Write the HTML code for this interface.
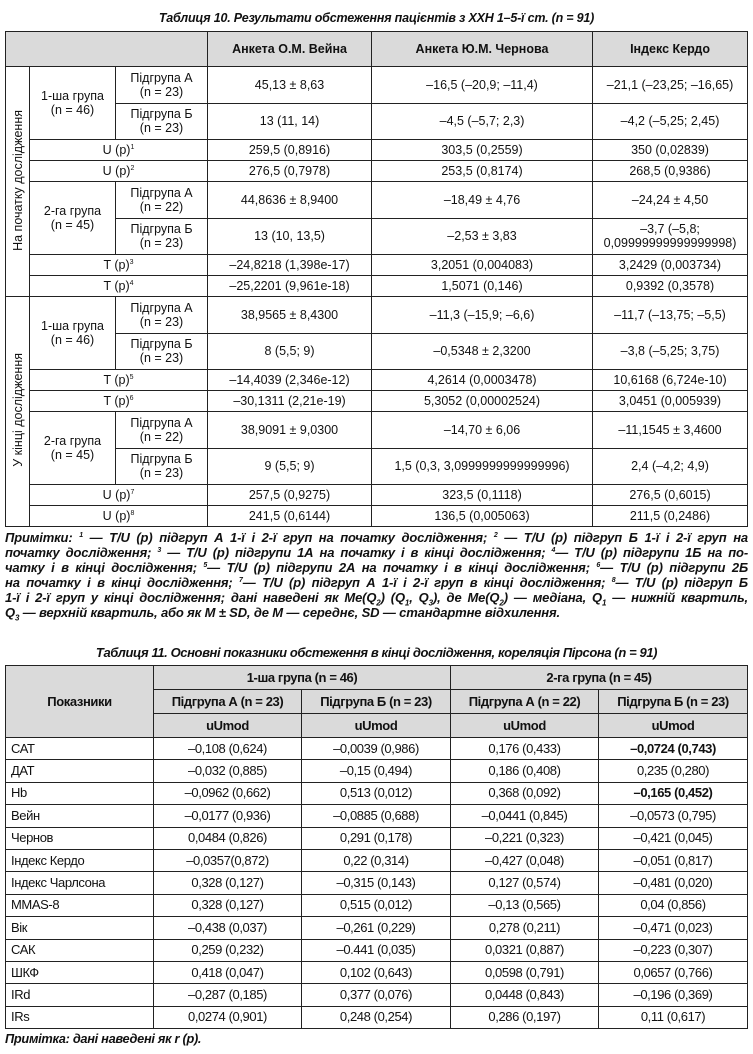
<!DOCTYPE html>
<html><head><meta charset="utf-8"><style>
body{margin:0;width:753px;height:1054px;background:#fff;font-family:"Liberation Sans",sans-serif;color:#111;position:relative;overflow:hidden}
.t{position:absolute;left:0;width:753px;text-align:center;font-weight:bold;font-style:italic;font-size:12.5px;letter-spacing:-0.2px}
table{position:absolute;left:5px;border-collapse:collapse;table-layout:fixed;width:742px}
td{border:1px solid #222;text-align:center;vertical-align:middle;padding:0;font-size:12.5px;line-height:14px;overflow:hidden;white-space:nowrap}
.g{background:#dadada}
.b{font-weight:bold}
.v{writing-mode:vertical-rl;transform:rotate(180deg);font-size:12.5px}
sup{font-size:7px;vertical-align:5px;line-height:0}
sub{font-size:8px;line-height:0}
#t11 td{letter-spacing:-0.4px;font-size:13px}
#t11 td.l{text-align:left;padding-left:5px}
.notes{position:absolute;left:5px;width:743px;top:530px;font-weight:bold;font-style:italic;font-size:13px;line-height:15px;letter-spacing:-0.15px}
.notes div{text-align:justify;text-align-last:justify;white-space:nowrap;height:15px}
.notes div.last{text-align-last:left}
</style></head><body>
<div class="t" style="top:11px">Таблиця 10. Результати обстеження пацієнтів з ХХН 1–5-ї ст. (n = 91)</div>
<table style="top:31px">
<colgroup><col style="width:24px"><col style="width:86px"><col style="width:92px"><col style="width:164px"><col style="width:221px"><col style="width:155px"></colgroup>
<tr style="height:35px"><td class="g" colspan="3"></td><td class="g b">Анкета О.М. Вейна</td><td class="g b">Анкета Ю.М. Чернова</td><td class="g b">Індекс Кердо</td></tr>
<tr style="height:36.5px"><td rowspan="8"><span class="v">На початку дослідження</span></td><td rowspan="2">1-ша група<br>(n = 46)</td><td>Підгрупа А<br>(n = 23)</td><td>45,13 ± 8,63</td><td>–16,5 (–20,9; –11,4)</td><td>–21,1 (–23,25; –16,65)</td></tr>
<tr style="height:36.5px"><td>Підгрупа Б<br>(n = 23)</td><td>13 (11, 14)</td><td>–4,5 (–5,7; 2,3)</td><td>–4,2 (–5,25; 2,45)</td></tr>
<tr style="height:21px"><td colspan="2">U (p)<sup>1</sup></td><td>259,5 (0,8916)</td><td>303,5 (0,2559)</td><td>350 (0,02839)</td></tr>
<tr style="height:21px"><td colspan="2">U (p)<sup>2</sup></td><td>276,5 (0,7978)</td><td>253,5 (0,8174)</td><td>268,5 (0,9386)</td></tr>
<tr style="height:36.5px"><td rowspan="2">2-га група<br>(n = 45)</td><td>Підгрупа А<br>(n = 22)</td><td>44,8636 ± 8,9400</td><td>–18,49 ± 4,76</td><td>–24,24 ± 4,50</td></tr>
<tr style="height:36.5px"><td>Підгрупа Б<br>(n = 23)</td><td>13 (10, 13,5)</td><td>–2,53 ± 3,83</td><td>–3,7 (–5,8;<br>0,09999999999999998)</td></tr>
<tr style="height:21px"><td colspan="2">T (p)<sup>3</sup></td><td>–24,8218 (1,398e-17)</td><td>3,2051 (0,004083)</td><td>3,2429 (0,003734)</td></tr>
<tr style="height:21px"><td colspan="2">T (p)<sup>4</sup></td><td>–25,2201 (9,961e-18)</td><td>1,5071 (0,146)</td><td>0,9392 (0,3578)</td></tr>
<tr style="height:36.5px"><td rowspan="8"><span class="v">У кінці дослідження</span></td><td rowspan="2">1-ша група<br>(n = 46)</td><td>Підгрупа А<br>(n = 23)</td><td>38,9565 ± 8,4300</td><td>–11,3 (–15,9; –6,6)</td><td>–11,7 (–13,75; –5,5)</td></tr>
<tr style="height:36.5px"><td>Підгрупа Б<br>(n = 23)</td><td>8 (5,5; 9)</td><td>–0,5348 ± 2,3200</td><td>–3,8 (–5,25; 3,75)</td></tr>
<tr style="height:21px"><td colspan="2">T (p)<sup>5</sup></td><td>–14,4039 (2,346e-12)</td><td>4,2614 (0,0003478)</td><td>10,6168 (6,724e-10)</td></tr>
<tr style="height:21px"><td colspan="2">T (p)<sup>6</sup></td><td>–30,1311 (2,21e-19)</td><td>5,3052 (0,00002524)</td><td>3,0451 (0,005939)</td></tr>
<tr style="height:36.5px"><td rowspan="2">2-га група<br>(n = 45)</td><td>Підгрупа А<br>(n = 22)</td><td>38,9091 ± 9,0300</td><td>–14,70 ± 6,06</td><td>–11,1545 ± 3,4600</td></tr>
<tr style="height:36.5px"><td>Підгрупа Б<br>(n = 23)</td><td>9 (5,5; 9)</td><td>1,5 (0,3, 3,0999999999999996)</td><td>2,4 (–4,2; 4,9)</td></tr>
<tr style="height:21px"><td colspan="2">U (p)<sup>7</sup></td><td>257,5 (0,9275)</td><td>323,5 (0,1118)</td><td>276,5 (0,6015)</td></tr>
<tr style="height:21px"><td colspan="2">U (p)<sup>8</sup></td><td>241,5 (0,6144)</td><td>136,5 (0,005063)</td><td>211,5 (0,2486)</td></tr>
</table>
<div class="notes">
<div>Примітки: <sup>1</sup> — T/U (p) підгруп А 1-ї і 2-ї груп на початку дослідження; <sup>2</sup> — T/U (p) підгруп Б 1-ї і 2-ї груп на</div>
<div>початку дослідження; <sup>3</sup> — T/U (p) підгрупи 1А на початку і в кінці дослідження; <sup>4</sup>— T/U (p) підгрупи 1Б на по-</div>
<div>чатку і в кінці дослідження; <sup>5</sup>— T/U (p) підгрупи 2А на початку і в кінці дослідження; <sup>6</sup>— T/U (p) підгрупи 2Б</div>
<div>на початку і в кінці дослідження; <sup>7</sup>— T/U (p) підгруп А 1-ї і 2-ї груп в кінці дослідження; <sup>8</sup>— T/U (p) підгруп Б</div>
<div>1-ї і 2-ї груп у кінці дослідження; дані наведені як Me(Q<sub>2</sub>) (Q<sub>1</sub>, Q<sub>3</sub>), де Me(Q<sub>2</sub>) — медіана, Q<sub>1</sub> — нижній квартиль,</div>
<div class="last">Q<sub>3</sub> — верхній квартиль, або як M ± SD, де M — середнє, SD — стандартне відхилення.</div>
</div>
<div class="t" style="top:645px;letter-spacing:-0.4px;font-size:13px">Таблиця 11. Основні показники обстеження в кінці дослідження, кореляція Пірсона (n = 91)</div>
<table id="t11" style="top:665px">
<colgroup><col style="width:148px"><col style="width:148px"><col style="width:149px"><col style="width:148px"><col style="width:149px"></colgroup>
<tr style="height:24px"><td class="g b" rowspan="3">Показники</td><td class="g b" colspan="2">1-ша група (n = 46)</td><td class="g b" colspan="2">2-га група (n = 45)</td></tr>
<tr style="height:24px"><td class="g b">Підгрупа А (n = 23)</td><td class="g b">Підгрупа Б (n = 23)</td><td class="g b">Підгрупа А (n = 22)</td><td class="g b">Підгрупа Б (n = 23)</td></tr>
<tr style="height:24px"><td class="g b">uUmod</td><td class="g b">uUmod</td><td class="g b">uUmod</td><td class="g b">uUmod</td></tr>
<tr style="height:22.4px"><td class="l">САТ</td><td>–0,108 (0,624)</td><td>–0,0039 (0,986)</td><td>0,176 (0,433)</td><td class="b">–0,0724 (0,743)</td></tr>
<tr style="height:22.4px"><td class="l">ДАТ</td><td>–0,032 (0,885)</td><td>–0,15 (0,494)</td><td>0,186 (0,408)</td><td>0,235 (0,280)</td></tr>
<tr style="height:22.4px"><td class="l">Hb</td><td>–0,0962 (0,662)</td><td>0,513 (0,012)</td><td>0,368 (0,092)</td><td class="b">–0,165 (0,452)</td></tr>
<tr style="height:22.4px"><td class="l">Вейн</td><td>–0,0177 (0,936)</td><td>–0,0885 (0,688)</td><td>–0,0441 (0,845)</td><td>–0,0573 (0,795)</td></tr>
<tr style="height:22.4px"><td class="l">Чернов</td><td>0,0484 (0,826)</td><td>0,291 (0,178)</td><td>–0,221 (0,323)</td><td>–0,421 (0,045)</td></tr>
<tr style="height:22.4px"><td class="l">Індекс Кердо</td><td>–0,0357(0,872)</td><td>0,22 (0,314)</td><td>–0,427 (0,048)</td><td>–0,051 (0,817)</td></tr>
<tr style="height:22.4px"><td class="l">Індекс Чарлсона</td><td>0,328 (0,127)</td><td>–0,315 (0,143)</td><td>0,127 (0,574)</td><td>–0,481 (0,020)</td></tr>
<tr style="height:22.4px"><td class="l">MMAS-8</td><td>0,328 (0,127)</td><td>0,515 (0,012)</td><td>–0,13 (0,565)</td><td>0,04 (0,856)</td></tr>
<tr style="height:22.4px"><td class="l">Вік</td><td>–0,438 (0,037)</td><td>–0,261 (0,229)</td><td>0,278 (0,211)</td><td>–0,471 (0,023)</td></tr>
<tr style="height:22.4px"><td class="l">САК</td><td>0,259 (0,232)</td><td>–0.441 (0,035)</td><td>0,0321 (0,887)</td><td>–0,223 (0,307)</td></tr>
<tr style="height:22.4px"><td class="l">ШКФ</td><td>0,418 (0,047)</td><td>0,102 (0,643)</td><td>0,0598 (0,791)</td><td>0,0657 (0,766)</td></tr>
<tr style="height:22.4px"><td class="l">IRd</td><td>–0,287 (0,185)</td><td>0,377 (0,076)</td><td>0,0448 (0,843)</td><td>–0,196 (0,369)</td></tr>
<tr style="height:22.4px"><td class="l">IRs</td><td>0,0274 (0,901)</td><td>0,248 (0,254)</td><td>0,286 (0,197)</td><td>0,11 (0,617)</td></tr>
</table>
<div style="position:absolute;left:5px;top:1031px;font-weight:bold;font-style:italic;font-size:12.8px;letter-spacing:-0.3px">Примітка: дані наведені як r (p).</div>
</body></html>
